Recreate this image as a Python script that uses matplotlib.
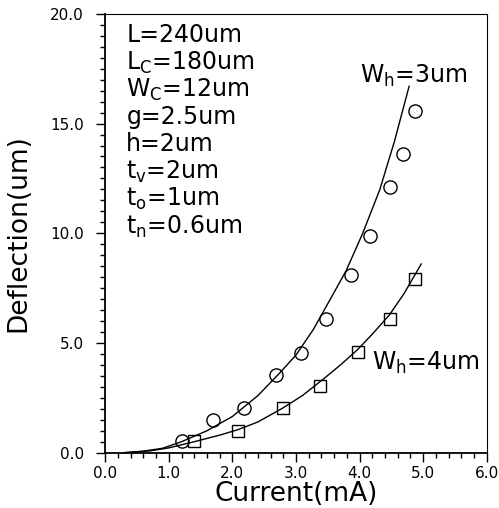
import matplotlib
matplotlib.use('Agg')
import matplotlib.pyplot as plt
from matplotlib.ticker import MultipleLocator, FormatStrFormatter

plt.rcParams['font.family'] = ['DejaVu Sans']
plt.rcParams['mathtext.fontset'] = 'dejavusans'

# Medidas (círculos: Wh=3um, quadrados: Wh=4um)
corrente_3 = [1.20, 1.70, 2.19, 2.68, 3.08, 3.48, 3.87, 4.16, 4.48, 4.68, 4.87]
deflexao_3 = [0.52, 1.51, 2.05, 3.52, 4.55, 6.07, 8.08, 9.88, 12.09, 13.6, 15.58]
corrente_4 = [1.40, 2.09, 2.79, 3.38, 3.97, 4.48, 4.88]
deflexao_4 = [0.55, 1.00, 2.04, 3.06, 4.58, 6.10, 7.90]

# Curvas teóricas
curva_x_3 = [0.3, 0.6, 0.9, 1.2, 1.6, 2.0, 2.4, 2.74, 3.0, 3.27, 3.56, 3.79, 4.05, 4.32, 4.55, 4.78]
curva_y_3 = [0.0, 0.07, 0.2, 0.5, 1.0, 1.65, 2.6, 3.62, 4.45, 5.6, 7.1, 8.3, 10.0, 12.0, 14.2, 16.7]
curva_x_4 = [0.3, 0.7, 1.0, 1.4, 1.8, 2.09, 2.4, 2.79, 3.1, 3.42, 3.7, 3.97, 4.2, 4.47, 4.7, 4.97]
curva_y_4 = [0.0, 0.08, 0.22, 0.5, 0.8, 1.05, 1.4, 2.03, 2.6, 3.33, 4.0, 4.7, 5.4, 6.28, 7.25, 8.6]

parametros = ['L=240um', r'L$_{\rm C}$=180um', r'W$_{\rm C}$=12um', 'g=2.5um',
              'h=2um', r't$_{\rm v}$=2um', r't$_{\rm o}$=1um', r't$_{\rm n}$=0.6um']

fig = plt.figure(figsize=(4.99, 5.08), dpi=100)
ax = fig.add_axes([0.211, 0.1089, 0.7643, 0.8638])

ax.plot(curva_x_3, curva_y_3, color='black', lw=1.0)
ax.plot(curva_x_4, curva_y_4, color='black', lw=1.0)
ax.plot(corrente_3, deflexao_3, 'o', ms=9.5, mfc='none', mec='black', mew=1.0)
ax.plot(corrente_4, deflexao_4, 's', ms=8.2, mfc='none', mec='black', mew=1.0)

ax.set_xlim(0, 6)
ax.set_ylim(0, 20)
ax.xaxis.set_major_locator(MultipleLocator(1.0))
ax.xaxis.set_minor_locator(MultipleLocator(0.2))
ax.yaxis.set_major_locator(MultipleLocator(5.0))
ax.yaxis.set_minor_locator(MultipleLocator(0.5))
ax.xaxis.set_major_formatter(FormatStrFormatter('%.1f'))
ax.yaxis.set_major_formatter(FormatStrFormatter('%.1f'))
ax.tick_params(which='major', direction='out', length=6.5, width=1.0, labelsize=11)
ax.tick_params(which='minor', direction='out', length=3.8, width=1.0)
ax.tick_params(axis='x', which='major', pad=3)
ax.tick_params(axis='y', which='major', pad=9)
ax.tick_params(top=False, right=False)

ax.spines['left'].set_linewidth(1.3)
ax.spines['bottom'].set_linewidth(1.3)
ax.spines['top'].set_linewidth(0.8)
ax.spines['right'].set_linewidth(0.8)

ax.set_xlabel('Current(mA)', fontsize=19, labelpad=0)
ax.set_ylabel('Deflection(um)', fontsize=19)
ax.yaxis.set_label_coords(-0.195, 0.5)

# Bloco de parâmetros
for i, texto in enumerate(parametros):
    ax.text(0.33, 18.72 - 1.247 * i, texto, fontsize=17, va='baseline', ha='left')

ax.text(4.0, 16.85, r'W$_{\rm h}$=3um', fontsize=17, va='baseline', ha='left')
ax.text(4.2, 3.77, r'W$_{\rm h}$=4um', fontsize=17, va='baseline', ha='left')

plt.savefig('out.png', dpi=100)
